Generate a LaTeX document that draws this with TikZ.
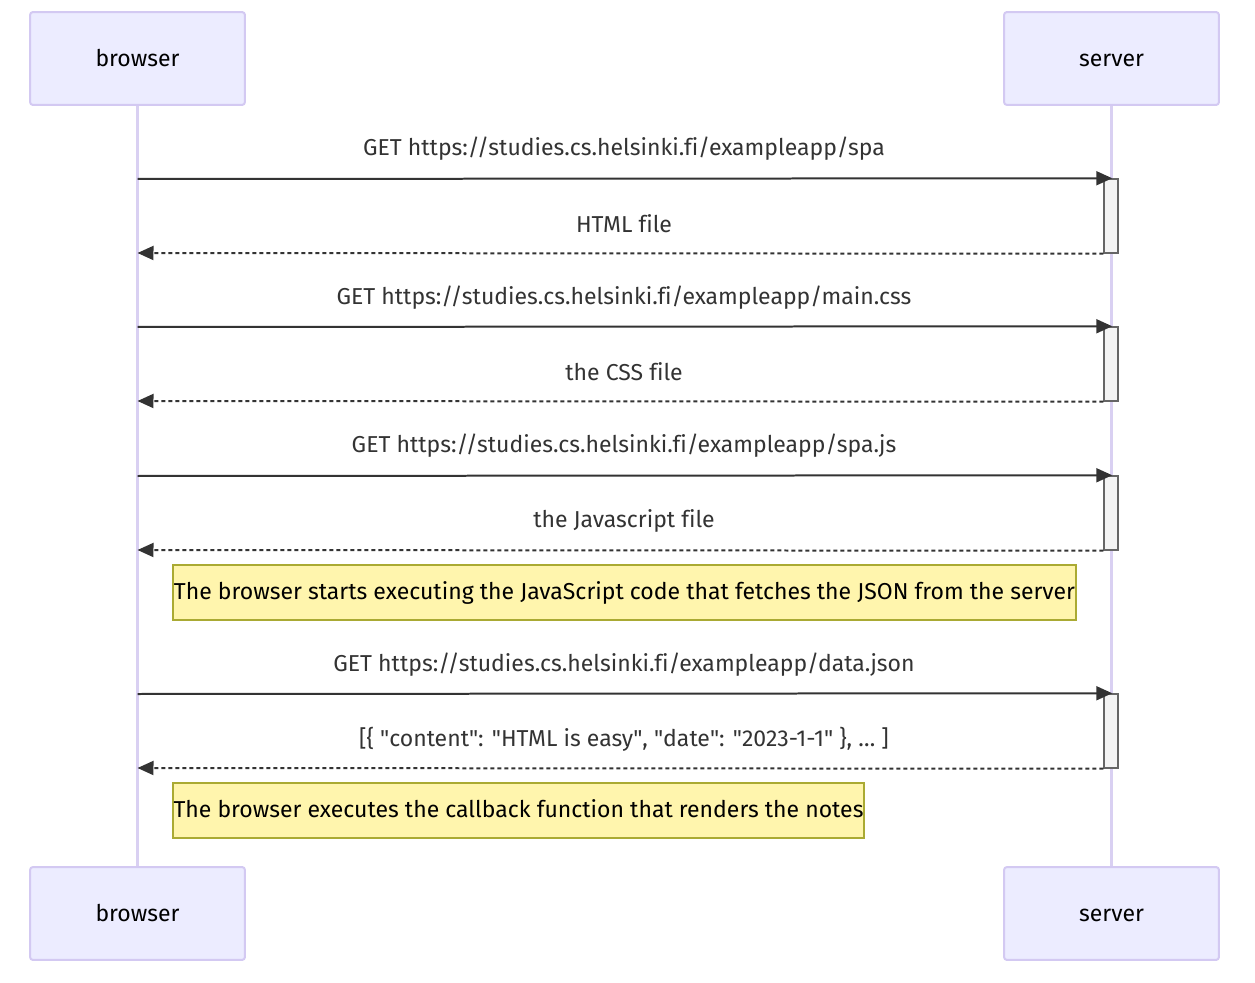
\documentclass[tikz,border=0pt]{standalone}
\usepackage{fontspec}
\setmainfont{Fira Sans}[Ligatures=NoCommon]
\usetikzlibrary{arrows.meta}

\definecolor{actorfill}{HTML}{ECECFF}
\definecolor{actorline}{HTML}{D3C9F2}
\definecolor{lifeline}{HTML}{D9D0F2}
\definecolor{msgline}{HTML}{333333}
\definecolor{notefill}{HTML}{FFF5AD}
\definecolor{noteline}{HTML}{AAAA33}
\definecolor{actfill}{HTML}{F4F4F4}
\definecolor{actline}{HTML}{666666}

\tikzset{
  actor/.style={draw=actorline, fill=actorfill, line width=0.04cm, rounded corners=0.06cm,
    minimum width=4.3cm, minimum height=1.86cm, text height=1.9ex, text depth=0.2ex,
    font=\fontsize{13.1}{15}\selectfont},
  msg/.style={draw=msgline, line width=0.04cm, -{Triangle[length=0.32cm,width=0.28cm]}},
  reply/.style={msg, dash pattern=on 0.08cm off 0.06cm},
  msglabel/.style={font=\fontsize{13.1}{15}\selectfont, text=msgline},
  activation/.style={draw=actline, fill=actfill, line width=0.03cm},
  note/.style={draw=noteline, fill=notefill, line width=0.03cm, inner sep=0pt,
    minimum height=1.1cm, text height=1.7ex, text depth=0.2ex, font=\fontsize{13.1}{15}\selectfont},
}

\begin{document}
\begin{tikzpicture}[x=0.02cm, y=-0.02cm]
			%%%%% START %%%%%
			\useasboundingbox (0, 0) rectangle (1255, 983);
			
			\node[actor] (browserTop) at (137.5, 58.5) {browser};
			\node[actor] (serverTop) at (1111.5, 58.5) {server};
			\node[actor] (browserBot) at (137.5, 913.5) {browser};
			\node[actor] (serverBot) at (1111.5, 913.5) {server};
			
			\draw[draw=lifeline, line width=0.05cm] (browserTop.south) -- (browserBot.north);
			\draw[draw=lifeline, line width=0.05cm] (serverTop.south) -- (serverBot.north);
			
			% activations on the server
			\node[activation, minimum width=0.28cm, minimum height=1.48cm, inner sep=0pt] (act1) at (1111, 216) {};
			\node[activation, minimum width=0.28cm, minimum height=1.48cm, inner sep=0pt] (act2) at (1111, 364) {};
			\node[activation, minimum width=0.28cm, minimum height=1.48cm, inner sep=0pt] (act3) at (1111, 513) {};
			\node[activation, minimum width=0.28cm, minimum height=1.48cm, inner sep=0pt] (act4) at (1111, 731) {};
			
			\coordinate (b1) at (137.5, 179);
			\coordinate (b2) at (137.5, 253);
			\coordinate (b3) at (137.5, 327);
			\coordinate (b4) at (137.5, 401);
			\coordinate (b5) at (137.5, 476);
			\coordinate (b6) at (137.5, 550);
			\coordinate (b7) at (137.5, 694);
			\coordinate (b8) at (137.5, 768);
			
			% spa
			\node[msglabel] (m1) at (624, 149) {GET https://studies.cs.helsinki.fi/exampleapp/spa};
			\draw[msg] (b1) -- ([xshift=0.18cm]act1.north west);
			\node[msglabel] (m2) at (624, 224) {HTML file};
			\draw[reply] (act1.south west) -- (b2);
			
			% css
			\node[msglabel] (m3) at (624, 298) {GET https://studies.cs.helsinki.fi/exampleapp/main.css};
			\draw[msg] (b3) -- ([xshift=0.18cm]act2.north west);
			\node[msglabel] (m4) at (624, 372) {the CSS file};
			\draw[reply] (act2.south west) -- (b4);
			
			% js
			\node[msglabel] (m5) at (624, 446) {GET https://studies.cs.helsinki.fi/exampleapp/spa.js};
			\draw[msg] (b5) -- ([xshift=0.18cm]act3.north west);
			\node[msglabel] (m6) at (624, 521) {the Javascript file};
			\draw[reply] (act3.south west) -- (b6);
			
			\node[note, minimum width=18.06cm] (note1) at (624.5, 592.5) {The browser starts executing the JavaScript code that fetches the JSON from the server};
			
			% json
			\node[msglabel] (m7) at (624, 665) {GET https://studies.cs.helsinki.fi/exampleapp/data.json};
			\draw[msg] (b7) -- ([xshift=0.18cm]act4.north west);
			\node[msglabel] (m8) at (624, 739) {[\{ \textquotedbl content\textquotedbl: \textquotedbl HTML is easy\textquotedbl, \textquotedbl date\textquotedbl: \textquotedbl 2023-1-1\textquotedbl\ \}, \dots\ ]};
			\draw[reply] (act4.south west) -- (b8);
			
			\node[note, minimum width=13.82cm] (note2) at (518.5, 810.5) {The browser executes the callback function that renders the notes};
			
			%%%%% END %%%%%
		\end{tikzpicture}
\end{document}
